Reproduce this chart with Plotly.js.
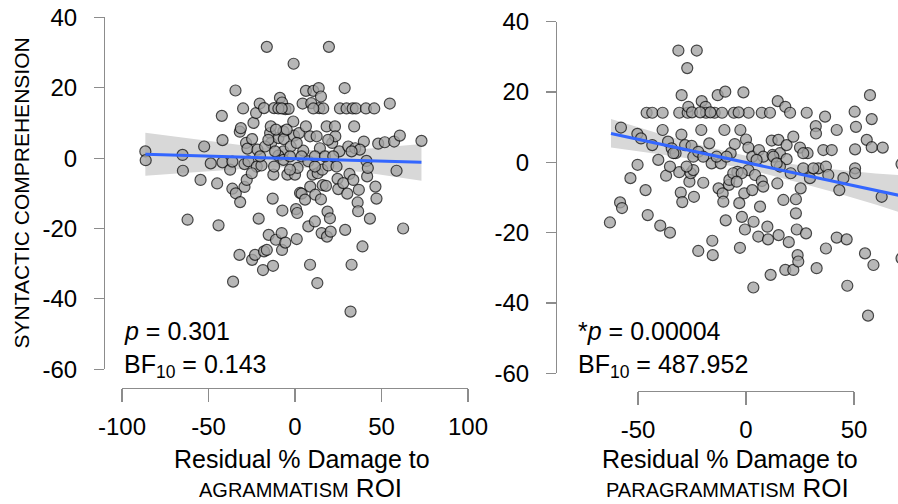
<!DOCTYPE html>
<html>
<head>
<meta charset="utf-8">
<script src="https://cdn.plot.ly/plotly-3.0.1.min.js"></script>
<style>html,body{margin:0;padding:0;background:#fff;}#chart{width:898px;height:504px;}</style>
</head>
<body>
<div id="chart"></div>
<script>
// ---------- data: left panel (AGRAMMATISM ROI) ----------
const agrX = [-86.5,-86.3,-65,-64.8,-62.1,-54.6,-52.5,-48.7,-45,-44.2,-42.3,-41.9,-41.9,-37.5,-36.2,-36.2,-35.8,-34.4,-34.2,-31.9,-31.7,-32.1,-31.3,-30,-29.2,-29.2,-27.9,-28.3,-27.5,-26.9,-24.8,-24,-24.8,-23.1,-22.5,-22.1,-21.7,-21,-20.4,-19.4,-18.5,-17.9,-16.3,-17.9,-15.2,-14.4,-14,-13.8,-12.9,-12.5,-12.7,-12.1,-12.1,-11,-9.6,-8.7,-7.5,-7.3,-7.7,-7.5,-5.6,-6.7,-6.5,-6.7,-5.6,-4.4,-3.7,-2.5,-1,-0.6,0,0.6,1,1.3,1.5,2.3,2.9,3.8,4.4,4.8,5.8,6.3,6.3,7.7,8.7,8.7,8.8,9.4,10.2,10.6,11.5,11.7,12.5,12.9,13.1,13.7,14,14.4,15,15,15.4,15.8,16,16.3,17.9,18.3,18.5,18.8,19.2,19.6,20.2,20.6,21.5,23.1,23.3,24.6,25,25.6,26,27.9,28.7,29,29.8,30.2,30.8,31.5,32.1,32.7,33.3,34.2,34.8,35.2,36.2,36.5,36.9,39,39.8,41,41.3,41.7,42.1,43.3,45.8,46.5,47.1,48.1,51.9,54.8,57.3,58.7,60.6,62.5,73.1,-9.6,-6.7,-2.9,3.8,7.7,11.5,17.3,22.1,-17.3,-11.5,-15.4,1,-4.8,-11,-25,-20.2,37.5,24,11.5,-2.9,32.7,19.2,33.7,-16.3,-0.8,-9.6,-7.7,10.6];
const agrY = [1.9,-0.6,0.9,-3.6,-17.5,-6.2,3.3,-1.5,-7.2,-19.1,12.0,5.1,-1.2,-3.3,-1.0,-8.7,-35.1,19.2,-10.0,7.5,-12.5,-27.5,8.5,14.1,-1.7,-8.2,-6.2,4.3,2.7,-0.9,5.4,10.0,-28.9,-27.5,12.8,-2.4,2.4,-17.2,15.5,-2.1,-31.8,-26.5,-26.1,14.2,-21.8,7.1,9.0,4.3,-11.5,-4.7,-30.6,14.2,-2.4,-23.2,5.7,17.1,15.8,-14.9,-21.3,-26.1,-24.0,7.6,5.4,1.9,13.9,-4.7,14.0,3.3,10.4,6.4,-4.7,-14.5,-23.0,-15.6,-2.8,7.1,-9.9,-10.1,15.5,2.1,-11.8,19.1,9.0,-19.4,-30.3,6.2,-8.1,15.6,-4.7,19.1,-18.0,-10.4,6.2,-35.5,-4.3,19.9,14.2,2.8,17.5,-11.7,-21.3,-3.3,-7.7,14.1,-7.9,9.0,-22.3,-15.2,-2.1,31.6,-17.1,-20.9,4.3,9.0,6.2,-5.9,-8.8,1.9,14.1,-7.1,19.9,-20.4,14.1,-10.1,3.3,-4.5,-43.6,-30.3,14.1,9.0,2.8,14.1,-12.6,-15.1,-9.0,-25.1,4.7,14.1,-0.8,-5.2,-2.8,-17.2,14.1,-8.1,-11.5,4.1,4.5,15.5,4.7,-3.6,6.4,-20.0,4.9,0.7,-0.5,0.5,0.5,-0.9,0.5,0.5,0.5,3.3,1.9,5.2,4.3,8.1,8.1,-4.3,0.5,2.4,-2.4,-2.4,-3.3,1.9,5.2,-6.2,31.6,26.8,14.1,14.1,14.1];
const agrFitX = [-86.5, 73.1];
const agrFitY = [1.1, -1.2];
const agrBandX = [-86.5,-60,-40,-20,0,20,40,60,73.1];
const agrBandUp = [7.2,5.5,4.1,3.0,2.3,2.2,2.6,3.4,4.0];
const agrBandLo = [-5.0,-4.1,-3.3,-2.7,-2.6,-3.1,-4.0,-5.4,-6.4];

// ---------- data: right panel (PARAGRAMMATISM ROI) ----------
const parX = [-63,-57.9,-58.3,-57.4,-53.5,-50.2,-50.3,-48.6,-46.5,-45.5,-46,-43.4,-38.6,-43.4,-40.6,-39.7,-38.6,-37,-35.2,-36.1,-34.4,-32.6,-31.3,-29.8,-30.9,-30.9,-30.2,-29.5,-29.9,-28.2,-27.2,-27,-26.7,-26.2,-25.6,-25.2,-24.1,-22.8,-22.1,-20.7,-20.5,-19.8,-18.7,-18.5,-17,-15.9,-15.6,-15.4,-14.5,-13.1,-12.7,-11.7,-10.8,-10.5,-10,-11.1,-9.6,-9.4,-7.9,-7.7,-7.1,-5.6,-5.2,-4,-3.1,-2.8,-2.6,-1.9,-1.2,-0.8,-0.5,0,1.1,1.2,1.1,2.9,2.9,3.4,3.5,4.2,5.7,6,6.5,7.3,7.3,8,9.9,10.2,11.1,11.4,11.9,12.3,14.5,14.7,15,15.1,15.7,17.3,18.2,18.8,19.8,18.8,20.4,20.7,18.2,21.9,21.9,23.1,23.1,23.5,23.9,24.2,25,25.3,26.5,27.8,28.1,28.5,29.6,32.3,32.4,32.7,33.5,35.8,36.6,37,37,38.1,39.7,42,42,43.2,45.1,46.6,46.9,50.3,50.5,50.5,50.5,50.9,55.1,55.9,56.5,57.4,58.2,58.2,59,62.8,63.3,72,72,-33.6,-24.4,-22.1,-19.8,-13.6,-9,-5.9,-2,4.9,12.7,15.7,26.5,31.2,-24.4,-35.2,-27.5,8,-4.3,14.2,-25,-21.2,-16.5,-3.4];
const parY = [-17.1,9.9,-11.4,-13.0,-4.5,-0.7,8.1,6.8,-7.9,-15,14.1,14.1,14.1,4.9,0.7,-18,9.2,-3.8,-20,5.9,4.0,2.6,31.8,19.1,14.1,-2.8,-8.6,-11.3,7.9,4.9,26.8,14.1,15.8,-5.5,-3.1,4.7,-9.8,31.8,-25.2,9.2,17.4,-5.8,15.8,14.1,5.4,-0.3,-22.3,-26.4,14.1,19.1,-7.4,-0.3,-8.8,-11.2,9.2,14.1,20.1,-16.5,-6.4,-5.0,2.6,14.1,5.2,-2.7,-11.6,-24.3,9.2,-15.5,19.9,-8.8,-19.1,6.5,4.2,14.1,-2.2,1.6,-7.9,-35.6,-16.9,-3.6,-21.1,3.5,-12.6,-5.3,14.1,1.6,-18.3,-21.9,14.1,-32,6.2,2.1,-6,17.4,6.4,-20.7,2.6,-10.7,15.8,4.9,-22.7,0.9,14.1,-3.1,-30.6,7.3,-30.6,-10.5,-14.5,-19.1,-26.4,-28.2,4.2,-7.4,-1.7,-20.2,14.1,2.6,-4.5,10.3,8.2,-30.1,-1.7,3.5,13,-1.2,-24.5,-3.6,3.5,9.2,-21.4,-7.9,-4.5,-21.9,-35.1,14.4,3.7,-1.7,-3.1,10.1,-25.9,6.4,-43.6,19.1,12.3,4.3,-29.2,-9.8,4.2,-0.5,-27.3,2.6,1.6,3.0,1.6,1.6,1.6,-3.1,-3.1,0.7,1.6,-1.2,2.6,-1.7,-2.2,-1.2,-1.2,-6.9,-5.5,-0.3,14.2,14.2,14.2,14.2];
const parFitX = [-62.5, 80];
const parFitY = [8.2, -10.6];
const parBandX = [-62.5,-40,-20,0,20,40,60,80];
const parBandUp = [12.3,8.1,4.7,1.9,-0.4,-2.0,-3.2,-4.0];
const parBandLo = [4.2,2.3,0.5,-1.9,-5.0,-8.4,-12.0,-16.0];

// ---------- tick labels ----------
const yTickVals = [-60,-40,-20,0,20,40];
const yTickText = ['-60','-40','-20','0','20','40'];
const agrTickVals = [-100,-50,0,50,100];
const agrTickText = ['-100','-50','0','50','100'];
const parTickVals = [-50,0,50];
const parTickText = ['-50','0','50'];

// ---------- helpers ----------
const W = 898, H = 504;
const px = v => v / W;
const py = v => (H - v) / H;
const FONT = 'Liberation Sans, Arial, Helvetica, sans-serif';

function band(xs, up, lo, xa, ya) {
  return {
    x: xs.concat(xs.slice().reverse()),
    y: up.concat(lo.slice().reverse()),
    xaxis: xa, yaxis: ya, type: 'scatter', mode: 'lines', fill: 'toself',
    fillcolor: '#d8d8d8', line: {width: 0}, hoverinfo: 'skip', showlegend: false
  };
}
function pts(xs, ys, xa, ya) {
  return {
    x: xs, y: ys, xaxis: xa, yaxis: ya, type: 'scatter', mode: 'markers',
    marker: {size: 11, color: '#a4a4a4', opacity: 0.78, line: {color: '#111111', width: 1.2}},
    showlegend: false
  };
}
function fit(xs, ys, xa, ya) {
  return {
    x: xs, y: ys, xaxis: xa, yaxis: ya, type: 'scatter', mode: 'lines',
    line: {color: '#3366FF', width: 3}, showlegend: false
  };
}

const traces = [
  band(agrBandX, agrBandUp, agrBandLo, 'x', 'y'),
  pts(agrX, agrY, 'x', 'y'),
  fit(agrFitX, agrFitY, 'x', 'y'),
  band(parBandX, parBandUp, parBandLo, 'x2', 'y2'),
  pts(parX, parY, 'x2', 'y2'),
  fit(parFitX, parFitY, 'x2', 'y2'),
  {x: [], y: [], xaxis: 'x3', yaxis: 'y2', type: 'scatter', mode: 'markers', showlegend: false}
];

const axCommon = {
  showgrid: false, zeroline: false, showline: true, linecolor: '#8c8c8c', linewidth: 1.2,
  ticks: 'outside', tickcolor: '#8c8c8c', tickwidth: 1.2,
  tickfont: {family: FONT, size: 24, color: '#000'}, tickmode: 'array', fixedrange: true
};

const layout = {
  width: W, height: H, margin: {l: 0, r: 0, t: 0, b: 0},
  paper_bgcolor: '#fff', plot_bgcolor: 'rgba(0,0,0,0)', showlegend: false,
  font: {family: FONT, color: '#000'},
  xaxis: Object.assign({}, axCommon, {
    domain: [px(122), px(468)], range: [-100, 100], anchor: 'free', position: py(387.5),
    tickvals: agrTickVals, ticktext: agrTickText, ticklen: 13, ticklabelstandoff: 4
  }),
  yaxis: Object.assign({}, axCommon, {
    domain: [py(369.3), py(17.3)], range: [-60, 40], anchor: 'free', position: px(104),
    tickvals: yTickVals, ticktext: yTickText, ticklen: 10, ticklabelstandoff: 12
  }),
  xaxis2: {
    domain: [px(556), 1], range: [(556 - 746) / 2.16, (898 - 746) / 2.16], anchor: 'y2',
    visible: false, fixedrange: true
  },
  xaxis3: Object.assign({}, axCommon, {
    domain: [px(638), px(854)], range: [-50, 50], anchor: 'free', position: py(391),
    tickvals: parTickVals, ticktext: parTickText, ticklen: 13, ticklabelstandoff: 4
  }),
  yaxis2: Object.assign({}, axCommon, {
    domain: [py(373.3), py(21.7)], range: [-60, 40], anchor: 'free', position: px(556),
    tickvals: yTickVals, ticktext: yTickText, ticklen: 10, ticklabelstandoff: 12
  }),
  annotations: [
    {text: 'SYNTACTIC COMPREHENSION', xref: 'paper', yref: 'paper', x: px(21), y: py(193.5),
     textangle: -90, showarrow: false, font: {size: 21, family: FONT}, xanchor: 'center', yanchor: 'middle'},
    {text: '<i>p</i> = 0.301', xref: 'paper', yref: 'paper', x: px(122), y: py(331),
     showarrow: false, font: {size: 25, family: FONT}, xanchor: 'left', yanchor: 'middle'},
    {text: 'BF<sub>10</sub> = 0.143', xref: 'paper', yref: 'paper', x: px(122), y: py(366),
     showarrow: false, font: {size: 25, family: FONT}, xanchor: 'left', yanchor: 'middle'},
    {text: '*<i>p</i> = 0.00004', xref: 'paper', yref: 'paper', x: px(576), y: py(331),
     showarrow: false, font: {size: 25, family: FONT}, xanchor: 'left', yanchor: 'middle'},
    {text: 'BF<sub>10</sub> = 487.952', xref: 'paper', yref: 'paper', x: px(576), y: py(366),
     showarrow: false, font: {size: 25, family: FONT}, xanchor: 'left', yanchor: 'middle'},
    {text: 'Residual % Damage to', xref: 'paper', yref: 'paper', x: px(302), y: py(459),
     showarrow: false, font: {size: 25, family: FONT}, xanchor: 'center', yanchor: 'middle'},
    {text: '<span style="font-size:20px">AGRAMMATISM</span> ROI', xref: 'paper', yref: 'paper', x: px(300), y: py(488),
     showarrow: false, font: {size: 26, family: FONT}, xanchor: 'center', yanchor: 'middle'},
    {text: 'Residual % Damage to', xref: 'paper', yref: 'paper', x: px(730), y: py(459),
     showarrow: false, font: {size: 25, family: FONT}, xanchor: 'center', yanchor: 'middle'},
    {text: '<span style="font-size:20px">PARAGRAMMATISM</span> ROI', xref: 'paper', yref: 'paper', x: px(727), y: py(488),
     showarrow: false, font: {size: 26, family: FONT}, xanchor: 'center', yanchor: 'middle'}
  ]
};

Plotly.newPlot('chart', traces, layout, {staticPlot: true, displayModeBar: false});
</script>
</body>
</html>
